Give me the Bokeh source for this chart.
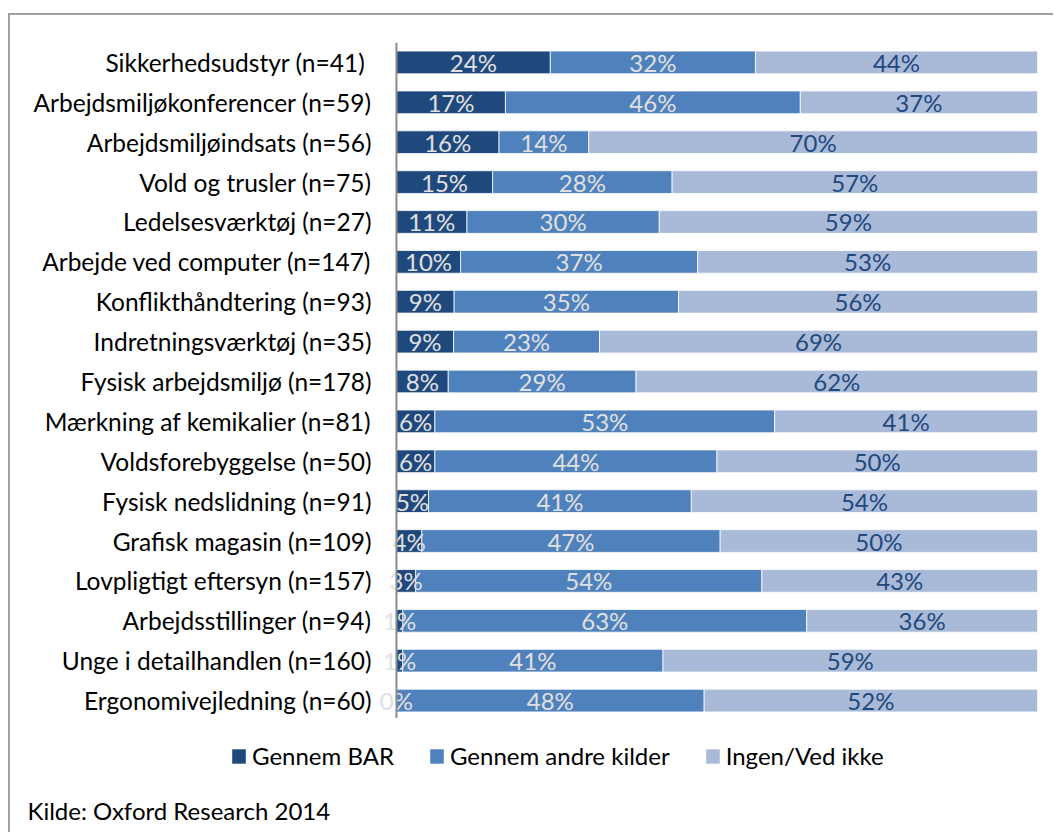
from bokeh.plotting import figure
from bokeh.models import (ColumnDataSource, FactorRange, Range1d, Legend, LegendItem,
                          Label, Span)
from bokeh.core.properties import value
from bokeh.embed import file_html
from bokeh.resources import INLINE

categories = [
    "Sikkerhedsudstyr  (n=41)",
    "Arbejdsmiljøkonferencer (n=59)",
    "Arbejdsmiljøindsats (n=56)",
    "Vold og trusler (n=75)",
    "Ledelsesværktøj (n=27)",
    "Arbejde ved computer (n=147)",
    "Konflikthåndtering (n=93)",
    "Indretningsværktøj (n=35)",
    "Fysisk arbejdsmiljø (n=178)",
    "Mærkning af kemikalier (n=81)",
    "Voldsforebyggelse (n=50)",
    "Fysisk nedslidning (n=91)",
    "Grafisk magasin (n=109)",
    "Lovpligtigt eftersyn (n=157)",
    "Arbejdsstillinger (n=94)",
    "Unge i detailhandlen (n=160)",
    "Ergonomivejledning (n=60)",
]
gennem_bar = [24, 17, 16, 15, 11, 10, 9, 9, 8, 6, 6, 5, 4, 3, 1, 1, 0]
andre_kilder = [32, 46, 14, 28, 30, 37, 35, 23, 29, 53, 44, 41, 47, 54, 63, 41, 48]
ingen = [44, 37, 70, 57, 59, 53, 56, 69, 62, 41, 50, 54, 50, 43, 36, 59, 52]
series_names = ["Gennem BAR", "Gennem andre kilder", "Ingen/Ved ikke"]
source_text = "Kilde: Oxford Research 2014"

colors = ["#1F497D", "#4F81BD", "#A9B9D8"]
label_colors = ["#E0E0E0", "#E0E0E0", "#1F497D"]
FONT = "Lato"
FS = "24px"
BORDER = "2px solid #A0A0A0"

W = 1045
H1 = 705
H2 = 114

p = figure(width=W, height=H1, output_backend="svg", toolbar_location=None,
           y_range=FactorRange(*reversed(categories)), x_range=Range1d(-2.8, 100),
           x_axis_location=None,
           min_border_left=368, min_border_right=18, min_border_top=27, min_border_bottom=0)
p.styles = {"margin-left": "8px", "margin-top": "13px",
            "border-left": BORDER, "border-top": BORDER}
p.outline_line_color = None
p.xgrid.visible = False
p.ygrid.visible = False
p.background_fill_color = "white"
p.border_fill_color = "white"

yax = p.yaxis[0]
yax.axis_line_color = None
yax.major_tick_line_color = None
yax.minor_tick_line_color = None
yax.major_tick_out = 0
yax.major_label_standoff = 7
yax.major_label_text_font = FONT
yax.major_label_text_font_size = "24.5px"
yax.major_label_text_color = "#000000"

p.add_layout(Span(location=0, dimension="height", line_color="#8C8C8C", line_width=2))

series = [gennem_bar, andre_kilder, ingen]
totals = [a + b + c for a, b, c in zip(*series)]
left = [0.0] * len(categories)
sources = []
for k, vals in enumerate(series):
    norm = [v / t * 100 for v, t in zip(vals, totals)]
    right = [l + n for l, n in zip(left, norm)]
    src = ColumnDataSource(dict(
        y=categories, left=left, right=right,
        mid=[(l + r) / 2 for l, r in zip(left, right)],
        lab=[f"{v}%" for v in vals]))
    sources.append(src)
    p.hbar(y="y", left="left", right="right", height=0.57, source=src,
           fill_color=colors[k], line_color="white", line_width=0.8)
    left = right

# labels drawn after all bars so they sit on top
for k, src in enumerate(sources):
    p.text(x="mid", y="y", text="lab", source=src, text_align="center",
           text_baseline="middle", text_font=value(FONT), text_font_size=FS,
           text_color=label_colors[k])

# Footer: legend + source note (separate root so it can use the full width)
p2 = figure(width=W, height=H2, output_backend="svg", toolbar_location=None,
            x_range=Range1d(0, W), y_range=Range1d(0, H2),
            x_axis_location=None, y_axis_location=None,
            min_border_left=0, min_border_right=0, min_border_top=0, min_border_bottom=0)
p2.styles = {"margin-left": "8px", "border-left": BORDER}
p2.outline_line_color = None
p2.xgrid.visible = False
p2.ygrid.visible = False
p2.border_fill_color = "white"

items = []
for k, name in enumerate(series_names):
    # zero-size placeholder renderer that only supplies the legend swatch
    r = p2.hbar(y=[0], left=[0], right=[0], height=0, fill_color=colors[k],
                line_color=None)
    items.append(LegendItem(label=name, renderers=[r]))

legend = Legend(items=items, orientation="horizontal", location=(220, 62),
                glyph_width=17, glyph_height=18, label_standoff=5, spacing=34,
                padding=0, margin=0, border_line_color=None, background_fill_alpha=0,
                label_text_font=FONT, label_text_font_size=FS,
                label_text_color="#000000", label_height=28)
p2.add_layout(legend, "center")

p2.add_layout(Label(x=17, y=22, x_units="screen", y_units="screen", text=source_text,
                    text_font=FONT, text_font_size=FS, text_color="#000000",
                    text_baseline="middle", text_align="left"))

open("out.html", "w").write(file_html([p, p2], INLINE))
